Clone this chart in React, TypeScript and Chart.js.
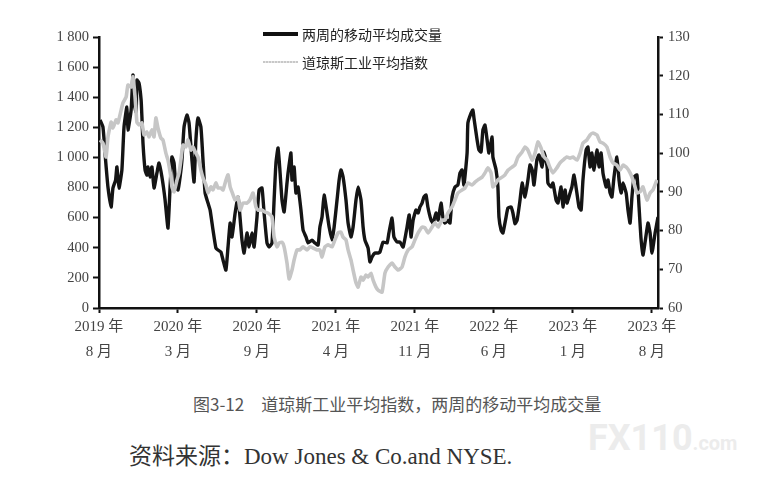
import React, { useEffect, useRef } from "react";
import { Chart, registerables } from "chart.js";

Chart.register(...registerables);

// ---- Data ----
// x positions are weeks since Aug 2019 (ticks every 30 weeks)
const xTickWeeks = [0, 30, 60, 90, 120, 150, 180, 210];
const xTickYears = ["2019 年", "2020 年", "2020 年", "2021 年", "2021 年", "2022 年", "2023 年", "2023 年"];
const xTickMonths = ["8 月", "3 月", "9 月", "4 月", "11 月", "6 月", "1 月", "8 月"];

// Two-week moving average volume (left axis)
const volWeeks = [
  0.4, 1.5, 2.5, 3.4, 4.6, 5.3, 6.3, 6.8, 7.6, 8.7, 9.5, 10.6, 11.0, 12.2, 12.9, 13.3, 14.1, 14.4, 15.2, 16.0,
  16.3, 16.7, 17.5, 18.2, 18.6, 19.4, 20.1, 20.9, 22.0, 22.8, 23.9, 25.1, 26.2, 27.0, 27.7, 28.5, 29.2, 30.0, 30.8, 31.5,
  32.3, 33.4, 34.2, 35.3, 36.1, 36.8, 37.6, 38.7, 39.5, 40.3, 41.4, 42.2, 43.3, 44.4, 45.2, 46.3, 47.1, 48.2, 49.0, 49.8,
  50.5, 51.7, 52.8, 54.3, 55.1, 56.2, 57.0, 58.1, 58.9, 60.0, 60.8, 61.9, 62.7, 63.8, 64.6, 65.7, 66.5, 67.2, 68.0, 68.7,
  69.5, 70.3, 71.4, 71.8, 72.9, 73.3, 74.1, 74.8, 75.6, 76.7, 77.5, 78.6, 79.4, 80.9, 82.0, 83.2, 83.9, 84.7, 85.5, 86.6,
  87.4, 88.5, 89.3, 90.4, 91.2, 91.9, 92.7, 93.8, 94.6, 95.7, 96.5, 97.6, 98.4, 99.5, 100.3, 101.0, 102.2, 102.9, 103.7, 104.8,
  106.0, 106.7, 107.9, 109.4, 110.1, 111.3, 112.0, 113.2, 114.3, 115.5, 117.0, 117.8, 118.5, 119.3, 120.4, 121.2, 121.9, 122.7, 123.4, 124.2,
  124.9, 126.1, 126.9, 128.0, 128.8, 129.9, 130.6, 131.4, 132.5, 133.3, 134.1, 135.2, 136.3, 137.1, 137.9, 138.6, 139.8, 140.1, 141.3, 142.0,
  142.4, 143.6, 144.3, 145.1, 145.8, 146.6, 147.4, 148.1, 149.3, 149.6, 150.8, 151.5, 151.9, 152.7, 153.4, 154.6, 155.3, 156.5, 157.2, 158.0,
  158.8, 159.9, 160.7, 161.8, 162.9, 163.7, 164.5, 165.2, 166.3, 167.1, 168.3, 169.0, 170.2, 170.5, 171.7, 172.4, 173.6, 174.3, 175.5, 176.2,
  177.0, 177.7, 178.9, 179.6, 180.4, 181.5, 182.3, 183.1, 183.8, 185.0, 185.7, 186.5, 187.2, 188.0, 189.1, 189.9, 190.7, 191.4, 192.6, 193.3,
  194.1, 194.8, 195.6, 196.7, 197.5, 198.3, 199.0, 200.2, 200.9, 201.7, 202.4, 203.2, 204.3, 205.1, 205.8, 206.6, 207.4, 208.5, 209.3, 210.0,
  211.2, 212.3,
];
const volValues = [
  1249, 1202, 983, 804, 671, 797, 850, 937, 797, 917, 1202, 1335, 1182, 1315, 1548, 1362, 1302, 1514, 1494, 1381,
  1269, 1096, 917, 883, 937, 870, 937, 797, 897, 963, 870, 717, 531, 804, 1003, 963, 804, 784, 870, 983,
  1202, 1282, 1229, 983, 837, 1116, 1262, 1202, 983, 764, 697, 650, 518, 398, 385, 372, 319, 252, 405, 564,
  472, 631, 737, 451, 365, 498, 405, 498, 405, 604, 784, 797, 631, 432, 405, 432, 717, 963, 1063, 917,
  717, 638, 830, 897, 1030, 850, 937, 764, 804, 651, 518, 472, 432, 451, 432, 418, 538, 604, 750, 631,
  538, 451, 538, 717, 850, 917, 870, 717, 564, 472, 538, 717, 804, 717, 538, 451, 398, 306, 339, 365,
  365, 372, 438, 432, 498, 598, 472, 438, 438, 405, 538, 618, 472, 584, 651, 631, 671, 697, 737, 750,
  671, 584, 564, 631, 584, 697, 604, 564, 584, 564, 737, 804, 817, 897, 917, 817, 1030, 1229, 1295, 1315,
  1262, 1116, 1049, 1036, 1182, 1215, 1116, 1030, 1136, 1003, 917, 804, 604, 518, 498, 604, 664, 671, 631, 560,
  584, 717, 830, 737, 850, 950, 917, 817, 983, 1016, 937, 1036, 937, 830, 804, 830, 717, 697, 804, 671,
  784, 697, 764, 804, 883, 764, 671, 651, 850, 1049, 1069, 937, 1030, 917, 1049, 937, 1030, 897, 804, 850,
  764, 737, 870, 1003, 850, 764, 830, 764, 651, 564, 737, 870, 883, 671, 472, 352, 438, 564, 498, 365,
  498, 604,
];

// Dow Jones Industrial Average index (right axis)
const djiaWeeks = [
  0.4, 1.5, 2.7, 3.4, 4.6, 5.3, 6.5, 7.2, 8.4, 9.1, 10.3, 11.0, 12.2, 12.9, 13.7, 14.4, 15.2, 16.3, 17.1, 18.2,
  19.0, 20.1, 20.9, 21.6, 22.4, 23.5, 24.3, 25.4, 26.2, 27.3, 27.7, 28.5, 29.6, 30.4, 31.1, 31.9, 33.0, 33.8, 34.9, 35.7,
  36.8, 37.6, 38.7, 39.5, 40.6, 41.4, 42.5, 43.3, 44.4, 45.2, 46.3, 47.1, 48.2, 49.0, 49.8, 50.5, 51.7, 52.8, 53.6, 54.7,
  56.2, 57.3, 58.5, 59.6, 60.4, 61.9, 63.0, 64.2, 65.7, 66.5, 67.6, 68.4, 69.5, 70.3, 71.4, 72.2, 73.3, 74.1, 75.2, 76.3,
  77.5, 79.0, 80.1, 81.3, 82.8, 83.9, 84.7, 85.8, 87.0, 88.5, 89.6, 90.8, 91.9, 92.7, 93.8, 94.6, 95.7, 96.5, 97.6, 98.4,
  99.5, 100.3, 101.4, 102.2, 103.3, 104.1, 105.2, 106.0, 107.5, 108.6, 109.8, 111.3, 112.4, 113.6, 115.1, 116.2, 117.4, 118.9, 120.0, 121.2,
  122.7, 123.8, 125.0, 126.5, 127.6, 128.8, 130.3, 131.4, 132.5, 134.1, 135.2, 136.3, 137.9, 139.0, 140.1, 141.7, 142.8, 143.9, 145.5, 146.6,
  147.7, 148.9, 149.6, 150.8, 151.5, 153.1, 154.2, 155.3, 156.9, 158.0, 159.1, 160.7, 161.8, 162.9, 164.5, 165.6, 166.7, 167.9, 169.0, 170.2,
  171.3, 172.4, 173.9, 175.1, 176.2, 177.7, 178.9, 180.0, 181.5, 182.7, 183.8, 185.3, 186.5, 187.6, 189.1, 190.3, 191.4, 192.9, 194.1, 195.2,
  196.7, 197.9, 199.0, 200.5, 201.7, 202.8, 204.3, 205.5, 206.6, 208.1, 209.3, 210.4, 211.9,
];
const djiaValues = [
  103.4, 102.6, 99.0, 104.2, 108.0, 106.5, 108.6, 107.8, 111.1, 113.0, 114.5, 117.6, 117.1, 119.7, 114.5, 108.0, 107.3, 107.8, 104.7, 105.5,
  104.2, 106.0, 104.2, 109.1, 106.5, 103.9, 103.4, 100.0, 98.2, 93.8, 91.3, 90.0, 93.0, 94.9, 98.2, 102.1, 101.6, 103.4, 100.8, 101.6,
  100.0, 99.0, 95.6, 93.6, 91.8, 89.7, 91.3, 90.5, 92.3, 91.0, 91.0, 90.5, 93.0, 94.4, 91.3, 90.0, 87.9, 88.7, 85.3, 87.1,
  87.1, 87.9, 89.7, 86.1, 85.3, 85.3, 84.8, 84.5, 83.5, 78.3, 75.8, 76.8, 77.0, 75.8, 71.6, 67.5, 69.8, 72.4, 75.0, 75.0,
  75.8, 75.0, 75.8, 75.5, 75.0, 75.0, 73.2, 75.8, 76.3, 75.8, 77.6, 79.4, 79.6, 78.3, 77.6, 75.0, 72.4, 69.8, 66.5, 65.4,
  68.0, 67.2, 68.5, 68.0, 69.0, 67.2, 65.4, 64.6, 64.1, 69.0, 70.6, 71.6, 70.6, 69.8, 70.6, 73.2, 75.0, 75.8, 77.6, 79.4,
  80.9, 80.7, 79.4, 80.9, 82.0, 80.9, 82.7, 82.7, 84.5, 86.1, 87.9, 89.7, 90.5, 91.0, 92.3, 91.8, 92.5, 93.1, 93.8, 94.9,
  96.2, 94.9, 91.3, 92.3, 93.1, 93.8, 94.4, 95.6, 96.4, 97.0, 99.0, 100.3, 101.6, 100.8, 98.2, 100.0, 102.9, 101.3, 99.0, 98.2,
  96.2, 94.9, 96.2, 97.5, 98.2, 99.0, 98.7, 99.0, 98.2, 100.0, 102.6, 103.4, 104.7, 105.2, 104.7, 102.9, 102.6, 101.6, 99.0, 97.5,
  96.9, 95.6, 96.9, 96.2, 94.9, 93.1, 89.7, 90.0, 91.3, 87.9, 89.7, 90.5, 93.1,
];

const volLabel = "两周的移动平均成交量";
const djiaLabel = "道琼斯工业平均指数";
const captionText = "图3-12\u3000道琼斯工业平均指数，两周的移动平均成交量";
const sourceText = "资料来源：Dow Jones & Co.and NYSE.";

const tickFont = '"Liberation Serif", "Noto Sans CJK SC", serif';
const cjkFont = '"Noto Sans CJK SC", sans-serif';

function formatThousands(v: number): string {
  if (v >= 1000) {
    return `${Math.floor(v / 1000)} ${String(v % 1000).padStart(3, "0")}`;
  }
  return String(v);
}

export default function App() {
  const canvasRef = useRef<HTMLCanvasElement | null>(null);

  useEffect(() => {
    const canvas = canvasRef.current;
    if (!canvas) return;
    const volData = volWeeks.map((w, i) => ({ x: w, y: volValues[i] }));
    const djiaData = djiaWeeks.map((w, i) => ({ x: w, y: djiaValues[i] }));

    const chart = new Chart(canvas, {
      type: "line",
      data: {
        datasets: [
          {
            label: djiaLabel,
            data: djiaData,
            yAxisID: "y1",
            borderColor: "#c6c6c6",
            borderWidth: 3.6,
            pointRadius: 0,
            tension: 0.15,
            order: 0,
          },
          {
            label: volLabel,
            data: volData,
            yAxisID: "y",
            borderColor: "#141414",
            borderWidth: 3.4,
            pointRadius: 0,
            tension: 0.15,
            order: 1,
          },
        ],
      },
      options: {
        responsive: false,
        animation: false,
        events: [],
        layout: { padding: { top: 37, left: 0, right: 0, bottom: 0 } },
        plugins: {
          legend: { display: false },
          tooltip: { enabled: false },
          title: { display: false },
        },
        scales: {
          x: {
            type: "linear",
            min: 0,
            max: 212.3,
            afterBuildTicks: (axis: any) => {
              axis.ticks = xTickWeeks.map((v) => ({ value: v }));
            },
            afterFit: (scale: any) => {
              scale.height = 72;
            },
            ticks: {
              autoSkip: false,
              maxRotation: 0,
              minRotation: 0,
              padding: 1,
              color: "#444",
              font: { family: tickFont, size: 15, lineHeight: 1.7 },
              callback: (value: any) => {
                const i = xTickWeeks.indexOf(Number(value));
                return i >= 0 ? [xTickYears[i], xTickMonths[i]] : "";
              },
            },
            grid: {
              display: true,
              drawOnChartArea: false,
              drawTicks: true,
              tickLength: 5,
              tickWidth: 2,
              tickColor: "#111",
            },
            border: { display: true, color: "#111", width: 2.5 },
          },
          y: {
            type: "linear",
            position: "left",
            min: 0,
            max: 1800,
            afterFit: (scale: any) => {
              scale.width = 99;
            },
            ticks: {
              stepSize: 200,
              padding: 4,
              color: "#444",
              font: { family: tickFont, size: 14.5 },
              callback: (value: any) => formatThousands(Number(value)),
            },
            grid: {
              display: true,
              drawOnChartArea: false,
              drawTicks: true,
              tickLength: 6,
              tickWidth: 2,
              tickColor: "#111",
            },
            border: { display: true, color: "#111", width: 2.5 },
          },
          y1: {
            type: "linear",
            position: "right",
            min: 60,
            max: 130,
            afterFit: (scale: any) => {
              scale.width = 110;
            },
            ticks: {
              stepSize: 10,
              padding: 5,
              color: "#444",
              font: { family: tickFont, size: 14.5 },
            },
            grid: {
              display: true,
              drawOnChartArea: false,
              drawTicks: true,
              tickLength: 5,
              tickWidth: 2,
              tickColor: "#111",
            },
            border: { display: true, color: "#111", width: 2.5 },
          },
        },
      },
    } as any);

    return () => {
      chart.destroy();
    };
  }, []);

  return (
    <div
      style={{
        position: "absolute",
        left: 0,
        top: 0,
        width: 768,
        height: 494,
        background: "#fff",
        overflow: "hidden",
      }}
    >
      <canvas
        ref={canvasRef}
        width={768}
        height={380}
        style={{ position: "absolute", left: 0, top: 0, width: 768, height: 380 }}
      />
      {/* Legend */}
      <div
        style={{
          position: "absolute",
          left: 263,
          top: 32,
          width: 35,
          height: 4,
          background: "#111",
        }}
      />
      <div
        style={{
          position: "absolute",
          left: 302,
          top: 24,
          lineHeight: "20px",
          fontSize: 14,
          fontFamily: cjkFont,
          color: "#222",
          whiteSpace: "nowrap",
        }}
      >
        {volLabel}
      </div>
      <div
        style={{
          position: "absolute",
          left: 263,
          top: 61,
          width: 35,
          height: 2,
          backgroundImage: "repeating-linear-gradient(90deg, #c8c8c8 0 2px, #e4e4e4 2px 3px)",
        }}
      />
      <div
        style={{
          position: "absolute",
          left: 302,
          top: 52,
          lineHeight: "20px",
          fontSize: 14,
          fontFamily: cjkFont,
          color: "#222",
          whiteSpace: "nowrap",
        }}
      >
        {djiaLabel}
      </div>
      {/* Caption */}
      <div
        style={{
          position: "absolute",
          left: 193,
          top: 392,
          lineHeight: "24px",
          fontSize: 17,
          fontFamily: cjkFont,
          color: "#555",
          whiteSpace: "nowrap",
        }}
      >
        {captionText}
      </div>
      {/* Source */}
      <div
        style={{
          position: "absolute",
          left: 129,
          top: 441,
          lineHeight: "32px",
          fontSize: 23,
          fontFamily: '"Liberation Serif", "Noto Sans CJK SC", serif',
          color: "#333",
          whiteSpace: "nowrap",
        }}
      >
        {sourceText}
      </div>
      {/* Watermark */}
      <div
        style={{
          position: "absolute",
          left: 588,
          top: 420,
          lineHeight: "36px",
          fontFamily: "Roboto, sans-serif",
          fontWeight: 700,
          color: "#ececec",
          whiteSpace: "nowrap",
        }}
      >
        <span style={{ fontSize: 36 }}>FX110</span>
        <span style={{ fontSize: 20 }}>.com</span>
      </div>
    </div>
  );
}
